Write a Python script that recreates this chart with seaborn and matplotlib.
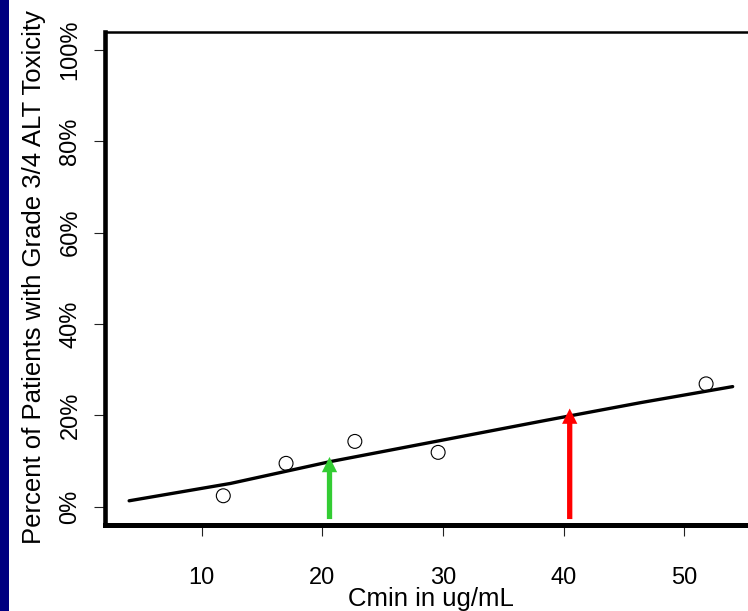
import matplotlib
matplotlib.use("Agg")
import matplotlib.pyplot as plt
import seaborn as sns
import pandas as pd
from matplotlib.patches import Rectangle

# ---- data ----
cmin_obs = [11.8, 17.0, 22.7, 29.6, 51.8]
pct_obs = [2.4, 9.5, 14.3, 11.9, 26.9]

fit_x = [4.0, 12.4, 20.7, 29.8, 38.5, 46.4, 54.0]
fit_y = [1.3, 5.1, 9.9, 14.5, 18.9, 22.8, 26.3]

arrow_x = [20.6, 40.5]
arrow_tip = [10.9, 21.5]
arrow_base = [-2.7, -2.7]
arrow_colors = ["#33cc33", "#ff0000"]

x_ticks = [10, 20, 30, 40, 50]
y_ticks = [0, 20, 40, 60, 80, 100]
y_ticklabels = ["0%", "20%", "40%", "60%", "80%", "100%"]

sns.set_style("white")
plt.rcParams["font.family"] = ["Liberation Sans", "DejaVu Sans"]
plt.rcParams["text.color"] = "black"
plt.rcParams["axes.labelcolor"] = "black"
plt.rcParams["xtick.color"] = "black"
plt.rcParams["ytick.color"] = "black"

W, H = 748, 611
fig = plt.figure(figsize=(W / 100, H / 100), dpi=100)
fig.patch.set_facecolor("white")

# left navy strip
fig.patches.append(Rectangle((0, 0), 8.5 / W, 1, transform=fig.transFigure,
                             facecolor="#000080", edgecolor="none", zorder=0))

ax_left = 105 / W
ax_w = 651.8 / W
ax_bottom = (H - 525) / H
ax_h = 493.3 / H
ax = fig.add_axes([ax_left, ax_bottom, ax_w, ax_h])
ax.set_facecolor("white")

df_fit = pd.DataFrame({"x": fit_x, "y": fit_y})
df_obs = pd.DataFrame({"x": cmin_obs, "y": pct_obs})

sns.lineplot(data=df_fit, x="x", y="y", ax=ax, color="black", linewidth=2.4,
             zorder=3)
sns.scatterplot(data=df_obs, x="x", y="y", ax=ax, s=100, facecolor="none",
                edgecolor="black", linewidth=0.8, marker="o", zorder=4)

for xa, yt, yb, c in zip(arrow_x, arrow_tip, arrow_base, arrow_colors):
    ax.annotate("", xy=(xa, yt), xytext=(xa, yb),
                arrowprops=dict(width=3.8, headwidth=11, headlength=11,
                                shrink=0, facecolor=c, edgecolor="none"),
                zorder=5)

ax.set_xlim(2, 56)
ax.set_ylim(-4, 104)

ax.set_xticks(x_ticks)
ax.set_xticklabels([str(v) for v in x_ticks], fontsize=17, color="black")
ax.set_yticks(y_ticks)
ax.set_yticklabels(y_ticklabels, fontsize=17, rotation=90, va="center",
                   color="black")

ax.tick_params(axis="x", direction="out", length=8, width=0.8, color="#222222",
               pad=22, bottom=True)
ax.tick_params(axis="y", direction="out", length=8, width=0.8, color="#222222",
               pad=9, left=True)

for side in ["left", "bottom", "top", "right"]:
    ax.spines[side].set_visible(True)
    ax.spines[side].set_color("black")
ax.spines["left"].set_linewidth(3.3)
ax.spines["bottom"].set_linewidth(3.6)
ax.spines["top"].set_linewidth(1.8)
ax.spines["right"].set_linewidth(1.8)

ax.set_xlabel("Cmin in ug/mL", fontsize=18.5, color="black")
ax.xaxis.set_label_coords(0.5, -0.15)
ax.xaxis.label.set_va("center")
ax.set_ylabel("Percent of Patients with Grade 3/4 ALT Toxicity", fontsize=18.5,
              color="black")
ax.yaxis.set_label_coords(-0.109, 0.5017)
ax.yaxis.label.set_va("center")

fig.savefig("out.png", dpi=100)
